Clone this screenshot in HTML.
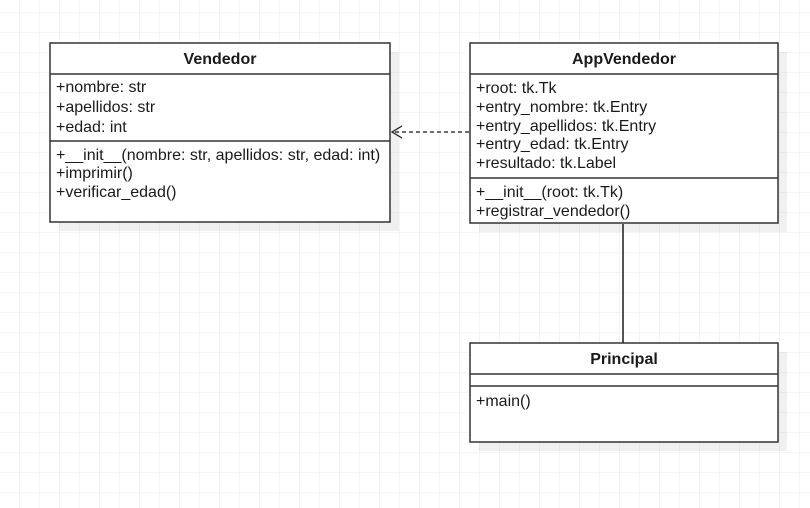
<!DOCTYPE html>
<html><head><meta charset="utf-8"><style>
html,body{margin:0;padding:0;background:#fff}
svg{display:block}
text{font-family:"Liberation Sans",sans-serif;font-size:16px;fill:#1a1a1a}
.b{font-weight:bold}
</style></head><body>
<svg width="810" height="508" xmlns="http://www.w3.org/2000/svg">
<defs>
<pattern id="g" width="20" height="20" patternUnits="userSpaceOnUse" x="0" y="13">
<path d="M20 0V20M0 20H20" fill="none" stroke="#ebebeb" stroke-width="1"/>
</pattern>
</defs>
<rect width="810" height="508" fill="url(#g)"/>
<rect x="59" y="52" width="340" height="179" fill="#000" opacity="0.06"/>
<rect x="479" y="52" width="308" height="180" fill="#000" opacity="0.06"/>
<rect x="479" y="352" width="308" height="99" fill="#000" opacity="0.06"/>
<g stroke="#333" stroke-width="1.5" fill="#fff">
<rect x="50" y="43" width="340" height="179"/>
<line x1="50" y1="74" x2="390" y2="74"/>
<line x1="50" y1="141" x2="390" y2="141"/>
<rect x="470" y="43" width="308" height="180"/>
<line x1="470" y1="74" x2="778" y2="74"/>
<line x1="470" y1="178" x2="778" y2="178"/>
<rect x="470" y="343" width="308" height="99"/>
<line x1="470" y1="374" x2="778" y2="374"/>
<line x1="470" y1="386" x2="778" y2="386"/>
</g>
<text x="220" y="64" class="b" text-anchor="middle">Vendedor</text>
<text x="56" y="92">+nombre: str</text>
<text x="56" y="112">+apellidos: str</text>
<text x="56" y="132">+edad: int</text>
<text x="56" y="160">+__init__(nombre: str, apellidos: str, edad: int)</text>
<text x="56" y="178">+imprimir()</text>
<text x="56" y="197">+verificar_edad()</text>
<text x="624" y="64" class="b" text-anchor="middle">AppVendedor</text>
<text x="476" y="93">+root: tk.Tk</text>
<text x="476" y="112">+entry_nombre: tk.Entry</text>
<text x="476" y="131">+entry_apellidos: tk.Entry</text>
<text x="476" y="149">+entry_edad: tk.Entry</text>
<text x="476" y="168">+resultado: tk.Label</text>
<text x="476" y="197">+__init__(root: tk.Tk)</text>
<text x="476" y="216">+registrar_vendedor()</text>
<text x="624" y="364" class="b" text-anchor="middle">Principal</text>
<text x="476" y="406">+main()</text>
<line x1="623" y1="224" x2="623" y2="343" stroke="#1a1a1a" stroke-width="1.5"/>
<line x1="469" y1="132" x2="393" y2="132" stroke="#1a1a1a" stroke-width="1.2" stroke-dasharray="4,3"/>
<path d="M402 126L392 132L402 138" fill="none" stroke="#1a1a1a" stroke-width="1.2"/>
</svg>
</body></html>
